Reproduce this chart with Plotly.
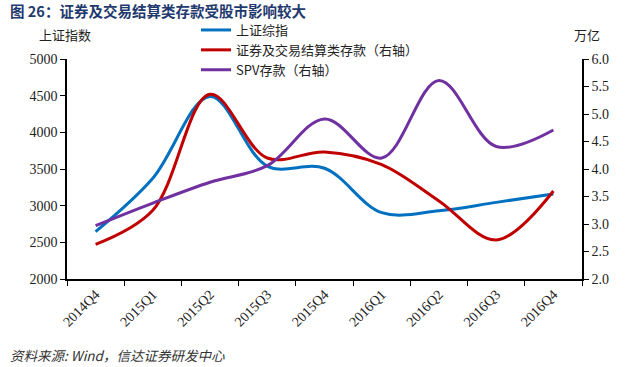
import plotly.graph_objects as go

categories = ["2014Q4", "2015Q1", "2015Q2", "2015Q3", "2015Q4",
              "2016Q1", "2016Q2", "2016Q3", "2016Q4"]
sh_index = [2647, 3375, 4490, 3540, 3510, 2905, 2930, 3045, 3160]
settle_deposit = [2.63, 3.25, 5.36, 4.20, 4.31, 4.08, 3.42, 2.71, 3.60]
spv_deposit = [2.97, 3.38, 3.76, 4.06, 4.91, 4.20, 5.61, 4.41, 4.71]

left_ticks = [2000, 2500, 3000, 3500, 4000, 4500, 5000]
right_ticks = [2.0, 2.5, 3.0, 3.5, 4.0, 4.5, 5.0, 5.5, 6.0]

CJK = "Noto Sans CJK SC"
SERIF = "Times New Roman, Liberation Serif, serif"

W, H = 632, 367
L, R, T, B = 67, 50, 59, 88
pw, ph = W - L - R, H - T - B


def px_to_paper(x, y):
    return (x - L) / pw, (H - B - y) / ph


fig = go.Figure()
fig.add_trace(go.Scatter(x=categories, y=sh_index, name="上证综指", mode="lines",
                         line=dict(color="#0070C0", width=3, shape="spline")))
fig.add_trace(go.Scatter(x=categories, y=settle_deposit, name="证券及交易结算类存款（右轴）",
                         mode="lines", yaxis="y2",
                         line=dict(color="#C00000", width=3, shape="spline")))
fig.add_trace(go.Scatter(x=categories, y=spv_deposit, name="SPV存款（右轴）",
                         mode="lines", yaxis="y2",
                         line=dict(color="#7030A0", width=3, shape="spline")))

lx, ly = px_to_paper(196, 15)
t_x, t_y = px_to_paper(8, 11)
a1x, a1y = px_to_paper(37, 34)
a2x, a2y = px_to_paper(587, 34)
a3x, a3y = px_to_paper(8, 355)

fig.update_layout(
    width=W, height=H,
    margin=dict(l=L, r=R, t=T, b=B, autoexpand=False),
    paper_bgcolor="white", plot_bgcolor="white",
    font=dict(family=CJK, size=13, color="#222"),
    showlegend=True,
    legend=dict(x=lx, y=ly, xanchor="left", yanchor="top", bgcolor="rgba(0,0,0,0)",
                font=dict(family=CJK, size=13, color="#222"),
                tracegroupgap=0, itemwidth=30),
    xaxis=dict(type="category", range=[-0.5, 8.5], tickson="boundaries",
               showline=True, linecolor="black", linewidth=1.5,
               ticks="outside", ticklen=5, tickcolor="black",
               tickangle=-45, showgrid=False, zeroline=False,
               tickfont=dict(family=SERIF, size=14, color="#222")),
    yaxis=dict(range=[2000, 5000], tickvals=left_ticks,
               showline=True, linecolor="black", linewidth=1.5,
               ticks="outside", ticklen=5, tickcolor="black",
               showgrid=False, zeroline=False,
               tickfont=dict(family=SERIF, size=14, color="#222")),
    yaxis2=dict(range=[2.0, 6.0], tickvals=right_ticks, tickformat=".1f",
                overlaying="y", side="right",
                showline=True, linecolor="black", linewidth=1.5,
                ticks="outside", ticklen=5, tickcolor="black",
                showgrid=False, zeroline=False,
                tickfont=dict(family=SERIF, size=14, color="#222")),
    annotations=[
        dict(text="<b>图 26：证券及交易结算类存款受股市影响较大</b>",
             x=t_x, y=t_y, xref="paper", yref="paper", xanchor="left",
             yanchor="middle", showarrow=False,
             font=dict(family=CJK, size=14.5, color="#1F3A6E")),
        dict(text="上证指数", x=a1x, y=a1y, xref="paper", yref="paper",
             xanchor="left", yanchor="middle", showarrow=False,
             font=dict(family=CJK, size=13, color="#222")),
        dict(text="万亿", x=a2x, y=a2y, xref="paper", yref="paper",
             xanchor="center", yanchor="middle", showarrow=False,
             font=dict(family=CJK, size=13, color="#222")),
        dict(text="<i>资料来源: Wind，信达证券研发中心</i>", x=a3x, y=a3y,
             xref="paper", yref="paper", xanchor="left", yanchor="middle",
             showarrow=False, font=dict(family=CJK, size=13.5, color="#333")),
    ],
)

fig.write_html("out.html", config={"displayModeBar": False},
               post_script="document.body.style.margin='0';document.body.style.overflow='hidden';")
